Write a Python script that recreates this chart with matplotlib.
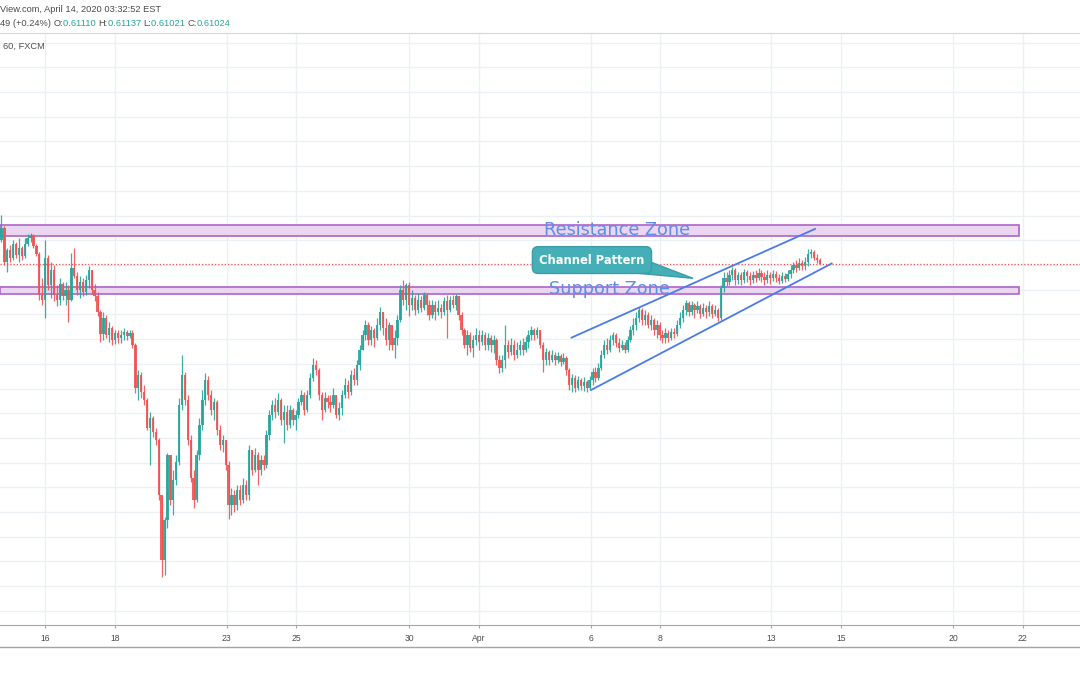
import numpy as np
import matplotlib
matplotlib.use('Agg')
import matplotlib.pyplot as plt
from matplotlib.patches import Rectangle, Polygon
from matplotlib.lines import Line2D

# NZDUSD, 2h candles, prices in pips (x 1e-4)
first_open = 6150
closes = [
    6175, 6106, 6130, 6114, 6142, 6120, 6134, 6118, 6142, 6154,
    6158, 6138, 6122, 6039, 6029, 6114, 6059, 6090, 6039, 6029,
    6061, 6037, 6049, 6029, 6094, 6077, 6049, 6065, 6045, 6069,
    6090, 6049, 6037, 6005, 5960, 5992, 5958, 5972, 5948, 5962,
    5952, 5958, 5964, 5956, 5962, 5938, 5851, 5877, 5843, 5826,
    5770, 5790, 5762, 5745, 5634, 5503, 5584, 5715, 5624, 5664,
    5701, 5816, 5877, 5826, 5745, 5669, 5624, 5715, 5776, 5826,
    5867, 5837, 5806, 5822, 5766, 5735, 5745, 5695, 5614, 5634,
    5614, 5644, 5624, 5654, 5634, 5725, 5685, 5715, 5685, 5705,
    5695, 5756, 5796, 5816, 5802, 5826, 5786, 5802, 5776, 5806,
    5786, 5796, 5822, 5837, 5806, 5837, 5871, 5897, 5887, 5837,
    5806, 5830, 5822, 5816, 5837, 5796, 5810, 5837, 5857, 5843,
    5877, 5867, 5897, 5928, 5958, 5978, 5948, 5968, 5952, 5978,
    6005, 5972, 5948, 5978, 5938, 5952, 5988, 6049, 6029, 6059,
    6019, 6033, 6009, 6029, 6013, 6039, 6019, 5998, 6019, 6005,
    6013, 6005, 6027, 6009, 6029, 6019, 6037, 5998, 5968, 5938,
    5958, 5932, 5948, 5958, 5944, 5958, 5938, 5952, 5938, 5948,
    5907, 5891, 5907, 5938, 5924, 5938, 5917, 5928, 5938, 5928,
    5944, 5958, 5968, 5958, 5968, 5938, 5907, 5924, 5907, 5917,
    5907, 5915, 5903, 5911, 5887, 5857, 5871, 5851, 5867, 5855,
    5863, 5851, 5867, 5883, 5871, 5891, 5917, 5938, 5928, 5948,
    5958, 5942, 5932, 5938, 5928, 5948, 5968, 5978, 5992, 6009,
    5988, 5998, 5978, 5988, 5968, 5978, 5958, 5952, 5962, 5952,
    5964, 5960, 5978, 5992, 6009, 6023, 6005, 6019, 6009, 6017,
    6001, 6013, 6005, 6017, 6001, 6009, 5992, 6053, 6073, 6065,
    6079, 6090, 6069, 6079, 6069, 6085, 6077, 6069, 6079, 6073,
    6083, 6075, 6069, 6079, 6073, 6081, 6073, 6067, 6077, 6071,
    6081, 6090, 6100, 6094, 6104, 6098, 6106, 6122, 6126, 6114,
    6111, 6102]
highs = [
    6201, 6179, 6134, 6140, 6150, 6146, 6154, 6138, 6154, 6162,
    6164, 6162, 6142, 6126, 6073, 6150, 6120, 6106, 6100, 6059,
    6073, 6065, 6065, 6059, 6124, 6134, 6085, 6077, 6073, 6079,
    6098, 6090, 6061, 6045, 6009, 6005, 5998, 5984, 5976, 5968,
    5968, 5968, 5972, 5968, 5968, 5968, 5942, 5887, 5883, 5857,
    5830, 5802, 5794, 5770, 5749, 5614, 5590, 5719, 5705, 5685,
    5715, 5830, 5917, 5883, 5837, 5756, 5685, 5725, 5790, 5847,
    5881, 5875, 5847, 5830, 5826, 5776, 5756, 5745, 5703, 5648,
    5644, 5654, 5654, 5669, 5664, 5735, 5725, 5729, 5721, 5715,
    5715, 5766, 5806, 5826, 5830, 5841, 5830, 5816, 5816, 5816,
    5810, 5806, 5830, 5847, 5843, 5847, 5881, 5911, 5907, 5891,
    5843, 5843, 5837, 5837, 5851, 5837, 5822, 5847, 5871, 5867,
    5887, 5891, 5907, 5938, 5968, 5988, 5984, 5976, 5972, 5992,
    6015, 6005, 5992, 5984, 5978, 5968, 5998, 6059, 6069, 6063,
    6065, 6049, 6039, 6043, 6037, 6045, 6043, 6029, 6029, 6027,
    6029, 6021, 6035, 6039, 6037, 6039, 6041, 6037, 6005, 5972,
    5968, 5964, 5958, 5972, 5968, 5968, 5964, 5962, 5958, 5958,
    5952, 5917, 5917, 5978, 5948, 5952, 5948, 5944, 5948, 5952,
    5956, 5968, 5976, 5972, 5974, 5968, 5944, 5932, 5928, 5928,
    5924, 5924, 5920, 5922, 5915, 5891, 5879, 5877, 5875, 5871,
    5873, 5867, 5875, 5891, 5893, 5901, 5928, 5948, 5952, 5958,
    5964, 5962, 5952, 5948, 5944, 5956, 5976, 5992, 6005, 6015,
    6013, 6009, 6005, 5998, 5992, 5988, 5984, 5968, 5972, 5968,
    5972, 5972, 5988, 6005, 6019, 6029, 6027, 6027, 6023, 6027,
    6021, 6023, 6019, 6027, 6021, 6019, 6013, 6059, 6085, 6085,
    6090, 6096, 6094, 6085, 6085, 6092, 6090, 6085, 6088, 6090,
    6094, 6090, 6085, 6090, 6085, 6090, 6088, 6081, 6085, 6083,
    6090, 6100, 6106, 6110, 6114, 6110, 6116, 6132, 6132, 6130,
    6122, 6114]
lows = [
    6146, 6100, 6085, 6106, 6110, 6114, 6106, 6110, 6114, 6138,
    6146, 6134, 6118, 6029, 6019, 5992, 6049, 6033, 6027, 6017,
    6019, 6029, 6019, 5984, 6027, 6073, 6039, 6033, 6037, 6039,
    6053, 6041, 6027, 5996, 5944, 5948, 5952, 5944, 5938, 5940,
    5942, 5942, 5948, 5948, 5952, 5932, 5841, 5826, 5830, 5816,
    5766, 5695, 5752, 5735, 5624, 5468, 5472, 5567, 5614, 5594,
    5654, 5695, 5806, 5816, 5735, 5660, 5608, 5620, 5705, 5766,
    5816, 5826, 5796, 5786, 5756, 5725, 5721, 5685, 5586, 5594,
    5600, 5604, 5614, 5618, 5624, 5624, 5675, 5681, 5654, 5675,
    5685, 5689, 5745, 5786, 5790, 5796, 5776, 5739, 5766, 5770,
    5776, 5766, 5790, 5816, 5796, 5802, 5830, 5865, 5877, 5826,
    5786, 5802, 5810, 5802, 5810, 5790, 5786, 5796, 5830, 5830,
    5837, 5857, 5857, 5887, 5932, 5948, 5938, 5938, 5934, 5948,
    5968, 5958, 5938, 5928, 5928, 5911, 5938, 5984, 6019, 6009,
    5996, 6009, 5998, 6002, 6005, 6009, 5998, 5988, 5992, 5988,
    5998, 5992, 5998, 5952, 6005, 6013, 6009, 5988, 5958, 5932,
    5917, 5924, 5913, 5938, 5928, 5938, 5928, 5928, 5924, 5922,
    5897, 5881, 5883, 5891, 5911, 5917, 5907, 5911, 5917, 5917,
    5924, 5932, 5948, 5948, 5952, 5932, 5883, 5897, 5897, 5903,
    5897, 5901, 5895, 5899, 5877, 5847, 5843, 5843, 5847, 5847,
    5845, 5843, 5847, 5857, 5863, 5867, 5887, 5911, 5920, 5924,
    5938, 5934, 5924, 5928, 5922, 5924, 5944, 5958, 5968, 5984,
    5978, 5978, 5972, 5968, 5958, 5952, 5948, 5942, 5942, 5944,
    5948, 5952, 5956, 5972, 5984, 5998, 5996, 5998, 5992, 6002,
    5992, 5996, 5992, 5996, 5992, 5996, 5986, 5988, 6045, 6057,
    6059, 6069, 6059, 6061, 6059, 6063, 6065, 6059, 6063, 6065,
    6069, 6065, 6059, 6063, 6061, 6067, 6065, 6061, 6063, 6065,
    6067, 6073, 6083, 6085, 6090, 6090, 6090, 6098, 6114, 6110,
    6104, 6102]

# date labels sit at these bar positions (2h bars)
tick_labels = ['16', '18', '23', '25', '30', 'Apr', '6', '8', '13', '15', '20', '22']
tick_pos = [14.9, 38.9, 77.3, 101.2, 140.0, 163.9, 202.3, 226.3, 264.4, 288.2, 326.8, 350.8]

resistance = (0.6158, 0.6181)
support = (0.6041, 0.6055)
zone_end = 349.4
last_close = 0.61024
upper_channel = ([195.8, 279.4], [0.5953, 0.6173])
lower_channel = ([202.5, 285.1], [0.5847, 0.6103])
callout_center = (202.8, 0.6110)
callout_tail = [(222.9, 0.6106), (237.5, 0.6073), (219.0, 0.6083)]

UP, DOWN = '#26a69a', '#ef5350'
TEAL = '#45afb8'

c = np.array(closes) / 1e4
o = np.concatenate([[first_open / 1e4], c[:-1]])
h = np.maximum(np.array(highs) / 1e4, np.maximum(o, c))
l = np.minimum(np.array(lows) / 1e4, np.minimum(o, c))
x = np.arange(len(c))
cols = np.where(c >= o, UP, DOWN)

fig = plt.figure(figsize=(10.8, 6.75), dpi=100)
ax = fig.add_axes([0, 50 / 675, 1, 592 / 675])
ax.set_xlim(-0.5, 370.4)
ax.set_ylim(0.53713, 0.65696)

# grid
ax.set_yticks(np.arange(0.540, 0.6571, 0.005))
ax.set_xticks(tick_pos)
ax.set_xticklabels(tick_labels, family='Liberation Sans')
ax.grid(True, color='#ebf0f4', lw=1)
ax.set_axisbelow(True)
ax.tick_params(axis='y', left=False, labelleft=False)
ax.tick_params(axis='x', length=2.2, color='#a3a6af', labelsize=6.2, labelcolor='#4b4b4b', pad=4)
for s in ['left', 'right']:
    ax.spines[s].set_visible(False)
ax.spines['top'].set_color('#d4d6db')
ax.spines['bottom'].set_color('#a3a6af')

# zones
for lo, hi in [resistance, support]:
    ax.add_patch(Rectangle((-0.5, lo), zone_end + 0.5, hi - lo, fc='#ebd5f0', ec='#ae64ca', lw=1.2, zorder=1))

# candles
ax.vlines(x, l, h, colors=cols, lw=0.9, alpha=0.9, zorder=3)
ax.bar(x, np.maximum(np.abs(c - o), 0.00008), bottom=np.minimum(o, c), width=0.8,
       color=cols, alpha=0.9, linewidth=0, zorder=3)

ax.axhline(last_close, color=DOWN, ls=(0, (1, 1.6)), lw=0.9, zorder=2)

# channel
ax.plot(*upper_channel, color='#4a7ce6', lw=1.3, zorder=4)
ax.plot(*lower_channel, color='#4a7ce6', lw=1.3, zorder=4)

ax.text(211.4, 0.6170, 'Resistance Zone', color='#5b8fe8', fontsize=12.7, ha='center', va='center', zorder=5)
ax.text(208.8, 0.6051, 'Support Zone', color='#5b8fe8', fontsize=12.7, ha='center', va='center', zorder=5)

# callout
ax.add_patch(Polygon(callout_tail, closed=True, fc=TEAL, ec='#3b9ea6', lw=1, zorder=6))
ax.text(*callout_center, 'Channel Pattern', ha='center', va='center', color='white',
        fontweight='bold', fontsize=8.3, zorder=7,
        bbox=dict(boxstyle='round,pad=0.6,rounding_size=0.5', fc=TEAL, ec='#3b9ea6', lw=1))

# header
hdr = dict(family='Liberation Sans', fontsize=6.7, va='center', ha='left')
fig.text(0.0, 1 - 10 / 675, 'View.com, April 14, 2020 03:32:52 EST', color='#4b4b4b', **hdr)
fig.text(3 / 1080, 1 - 46 / 675, '60, FXCM', color='#505050', **hdr)

fig.canvas.draw()
r = fig.canvas.get_renderer()
xpos = 0.0
parts = [('49 (+0.24%) ', '#4b4b4b'), ('O:', '#4b4b4b'), ('0.61110 ', UP), ('H:', '#4b4b4b'),
         ('0.61137 ', UP), ('L:', '#4b4b4b'), ('0.61021 ', UP), ('C:', '#4b4b4b'), ('0.61024', UP)]
for txt, col in parts:
    t = fig.text(xpos, 1 - 23 / 675, txt, color=col, **hdr)
    bb = t.get_window_extent(renderer=r)
    xpos += bb.width / 1080

fig.add_artist(Line2D([0, 1], [28 / 675, 28 / 675], color='#a3a3a3', lw=1))

fig.savefig('out.png', dpi=100)
